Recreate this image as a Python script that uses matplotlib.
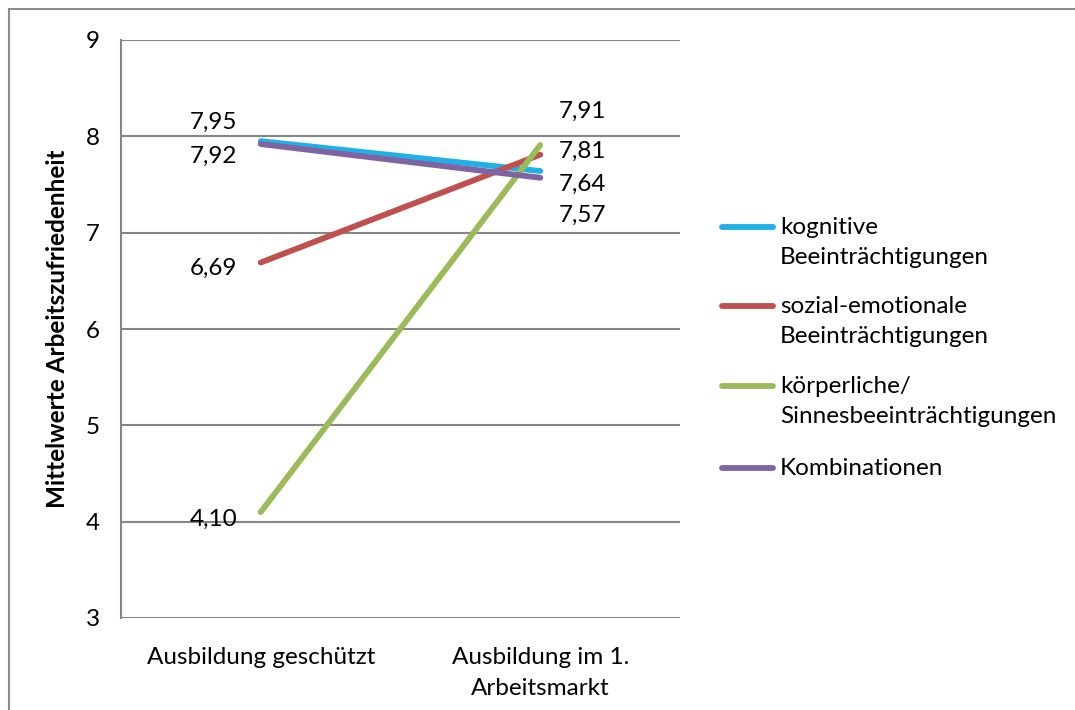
import matplotlib
matplotlib.use("Agg")
import matplotlib.pyplot as plt
from matplotlib.lines import Line2D
from matplotlib.patches import Rectangle

plt.rcParams["font.family"] = ["Lato", "DejaVu Sans"]

# data
categories = ["Ausbildung geschützt", "Ausbildung im 1.\nArbeitsmarkt"]
series_names = ["kognitive\nBeeinträchtigungen",
                "sozial-emotionale\nBeeinträchtigungen",
                "körperliche/\nSinnesbeeinträchtigungen",
                "Kombinationen"]
kognitive = [7.95, 7.64]
sozial = [6.69, 7.81]
koerperlich = [4.10, 7.91]
kombinationen = [7.92, 7.57]
y_ticks = [3, 4, 5, 6, 7, 8, 9]

colors = ["#1FB0E8", "#C0504D", "#9BBB59", "#8064A2"]
# label offsets in pixels (left point, right point)
label_offsets = [((-47, 19), (42, -13)),
                 ((-47, -6), (42, 3)),
                 ((-47, -7), (42, 34)),
                 ((-47, -12), (42, -38))]

FS = 17.5
LW = 4.2

fig = plt.figure(figsize=(10.75, 7.1), dpi=100)
ax = fig.add_axes([121 / 1075, 1 - 618 / 710, 559 / 1075, 578 / 710])

# outer chart border
fig.patches.append(Rectangle((9 / 1075, -0.1), 1.2, 1 - 9 / 710 + 0.1,
                             transform=fig.transFigure, fill=False,
                             edgecolor="#8C8C8C", linewidth=1.5))

grid_c = "#868686"
for t in y_ticks:
    ax.axhline(t, color=grid_c, linewidth=1.5, zorder=1)

x = [0, 1]
all_series = [kognitive, sozial, koerperlich, kombinationen]
for vals, col, offs in zip(all_series, colors, label_offsets):
    ax.plot(x, vals, color=col, linewidth=LW, solid_capstyle="round", zorder=3)
    for xi, v, o in zip(x, vals, offs):
        ax.annotate(f"{v:.2f}".replace(".", ","), (xi, v), xytext=o,
                    textcoords="offset pixels", ha="center", va="center",
                    fontsize=FS, color="black")

ax.set_xlim(-0.5, 1.5)
ax.set_ylim(3, 9)
ax.set_yticks(y_ticks)
ax.set_xticks(x)
ax.set_xticklabels(categories, fontsize=FS, linespacing=1.55)
ax.tick_params(axis="both", length=0, labelsize=FS)
ax.tick_params(axis="y", pad=15)
ax.tick_params(axis="x", pad=21)
for s in ["top", "right", "bottom"]:
    ax.spines[s].set_visible(False)
ax.spines["left"].set_color(grid_c)
ax.spines["left"].set_linewidth(1.5)
ax.set_ylabel("Mittelwerte Arbeitszufriedenheit", fontsize=17.5,
              fontweight="bold", labelpad=12)

# legend drawn by hand so the line sits on the first text line
legend_y = [227, 306, 386, 468]
for name, col, ly in zip(series_names, colors, legend_y):
    yf = 1 - ly / 710
    fig.lines.append(Line2D([722 / 1075, 773 / 1075], [yf, yf],
                            transform=fig.transFigure, color=col,
                            linewidth=LW, solid_capstyle="round"))
    fig.text(780 / 1075, 1 - (ly - 10) / 710, name, fontsize=FS,
             va="top", ha="left", linespacing=1.55)

fig.savefig("out.png", dpi=100)
